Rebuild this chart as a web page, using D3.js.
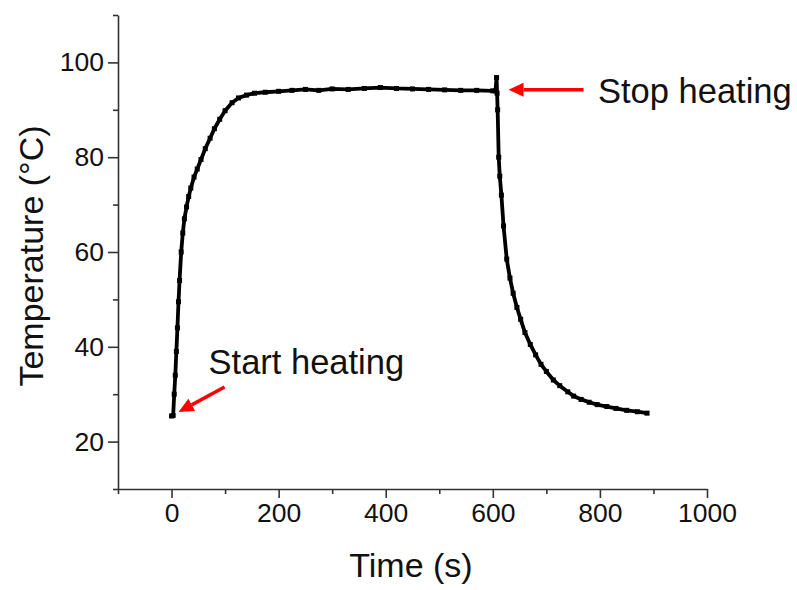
<!DOCTYPE html>
<html>
<head>
<meta charset="utf-8">
<script src="https://cdn.jsdelivr.net/npm/d3@7"></script>
<style>
  body { margin: 0; background: #fff; }
  text { font-family: Arial, "Liberation Sans", sans-serif; }
</style>
</head>
<body>
<div id="chart"></div>
<script>
// heating curve
const timeS = [0, 3, 5, 7, 9, 11, 13, 15, 18, 21, 24, 28, 32, 36, 42, 48, 55, 63, 72, 80, 90, 100,
  113, 125, 140, 155, 175, 200, 225, 250, 275, 300, 330, 360, 390, 420, 450, 480, 510, 540, 570,
  600, 605, 607, 608, 609, 611, 613, 616, 620, 626, 632, 638, 645, 652, 660, 670, 680, 690, 700,
  713, 725, 740, 751, 765, 780, 795, 813, 830, 850, 870, 888];
const tempC = [25.4, 25.5, 30, 34, 39, 44, 49.5, 54, 60, 64, 67, 69.5, 71.7, 73.5, 75.8, 77.5, 79.5, 81.8, 84, 86, 88, 89.8,
  91.5, 92.5, 93.1, 93.5, 93.7, 93.9, 94.1, 94.3, 94.1, 94.4, 94.3, 94.5, 94.7, 94.5, 94.4, 94.3, 94.2, 94.1, 94.1,
  94.0, 94.0, 96.8, 93.5, 90, 80, 76, 72, 65.5, 58.5, 54.5, 51.3, 48.3, 45.8, 43, 40.5, 38.3, 36.3, 34.8,
  33, 31.8, 30.5, 29.6, 28.9, 28.3, 27.8, 27.4, 27, 26.6, 26.3, 26];

const xMajor = [0, 200, 400, 600, 800, 1000];
const xMinor = [-100, 100, 300, 500, 700, 900];
const yMajor = [20, 40, 60, 80, 100];
const yMinor = [10, 30, 50, 70, 90, 110];

const annotations = [
  { label: "Start heating", t: 0, T: 25.4 },
  { label: "Stop heating", t: 607, T: 94.0 }
];

const width = 797;
const height = 590;

const x = d3.scaleLinear().domain([-100, 1000]).range([118, 707]);
const y = d3.scaleLinear().domain([10, 110]).range([489, 15]);

const svg = d3.select("#chart")
  .append("svg")
  .attr("width", width)
  .attr("height", height)
  .attr("viewBox", [0, 0, width, height]);

const axisColor = "#333";

// x axis: major + minor ticks
svg.append("g")
  .attr("transform", `translate(0,${y(10)})`)
  .call(d3.axisBottom(x).tickValues(xMajor).tickFormat(d3.format("d")).tickSize(9).tickPadding(5).tickSizeOuter(0));
svg.append("g")
  .attr("transform", `translate(0,${y(10)})`)
  .call(d3.axisBottom(x).tickValues(xMinor).tickSize(5).tickFormat("").tickSizeOuter(0))
  .call((g) => g.select(".domain").remove());

// y axis
svg.append("g")
  .attr("transform", `translate(${x(-100)},0)`)
  .call(d3.axisLeft(y).tickValues(yMajor).tickSize(10).tickPadding(4).tickSizeOuter(0));
svg.append("g")
  .attr("transform", `translate(${x(-100)},0)`)
  .call(d3.axisLeft(y).tickValues(yMinor).tickSize(5).tickFormat("").tickSizeOuter(0))
  .call((g) => g.select(".domain").remove());

svg.selectAll(".domain, .tick line").attr("stroke", axisColor).attr("stroke-width", 1.6);
svg.selectAll(".tick text")
  .attr("font-size", 26.5)
  .attr("fill", "#111");

// axis titles
svg.append("text")
  .attr("x", 411)
  .attr("y", 577)
  .attr("text-anchor", "middle")
  .attr("font-size", 34)
  .attr("fill", "#111")
  .text("Time (s)");

svg.append("text")
  .attr("transform", `translate(43,256) rotate(-90)`)
  .attr("text-anchor", "middle")
  .attr("font-size", 34)
  .attr("fill", "#111")
  .text("Temperature (°C)");

// curve
const pts = timeS.map((t, i) => [t, tempC[i]]);
const line = d3.line().x((d) => x(d[0])).y((d) => y(d[1]));

svg.append("path")
  .datum(pts)
  .attr("fill", "none")
  .attr("stroke", "#000")
  .attr("stroke-width", 3.8)
  .attr("stroke-linejoin", "round")
  .attr("d", line);

svg.append("g")
  .selectAll("rect")
  .data(pts)
  .join("rect")
  .attr("x", (d) => x(d[0]) - 2.5)
  .attr("y", (d) => y(d[1]) - 2.5)
  .attr("width", 5)
  .attr("height", 5)
  .attr("fill", "#000");

// red arrows + notes
function arrow(x1, y1, x2, y2) {
  const ang = Math.atan2(y2 - y1, x2 - x1);
  const hl = 15, hw = 7;
  const bx = x2 - hl * Math.cos(ang), by = y2 - hl * Math.sin(ang);
  svg.append("line")
    .attr("x1", x1).attr("y1", y1).attr("x2", bx).attr("y2", by)
    .attr("stroke", "#f00").attr("stroke-width", 3.5);
  svg.append("path")
    .attr("d", `M${x2},${y2}L${bx - hw * Math.sin(ang)},${by + hw * Math.cos(ang)}L${bx + hw * Math.sin(ang)},${by - hw * Math.cos(ang)}Z`)
    .attr("fill", "#f00");
}

const start = annotations[0], stop = annotations[1];
arrow(x(start.t) + 53, y(start.T) - 29, x(start.t) + 7, y(start.T) - 4);
svg.append("text")
  .attr("x", x(start.t) + 37).attr("y", 374)
  .attr("font-size", 34.5).attr("fill", "#111")
  .text(start.label);

arrow(x(stop.t) + 87, y(stop.T) - 1, x(stop.t) + 12, y(stop.T) - 1);
svg.append("text")
  .attr("x", 598).attr("y", 103)
  .attr("font-size", 34.5).attr("fill", "#111")
  .text(stop.label);
</script>
</body>
</html>
